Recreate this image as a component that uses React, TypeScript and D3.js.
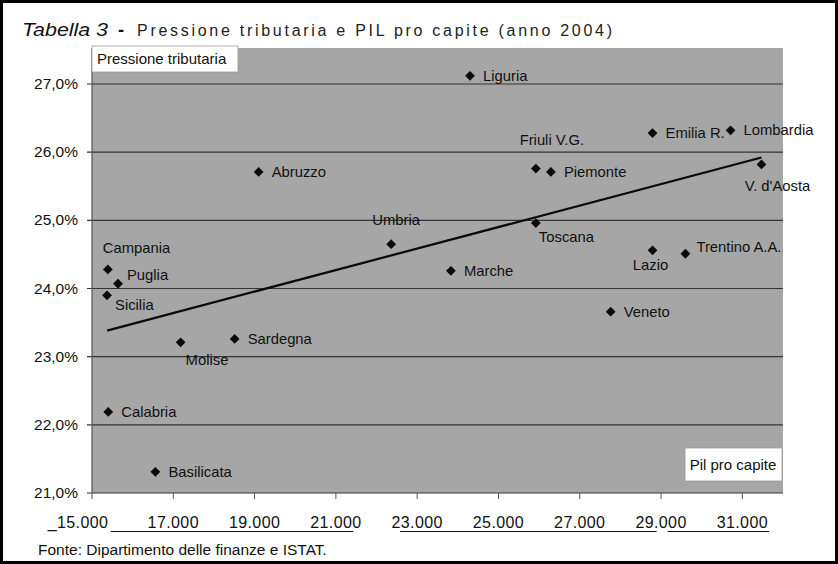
import * as d3 from 'd3';

// Regions, PIL pro capite (euro) and pressione tributaria (%), anno 2004
const regions = [
  'Campania', 'Puglia', 'Sicilia', 'Calabria', 'Basilicata', 'Molise', 'Sardegna',
  'Abruzzo', 'Umbria', 'Marche', 'Liguria', 'Friuli V.G.', 'Piemonte', 'Toscana',
  'Veneto', 'Lazio', 'Trentino A.A.', 'Emilia R.', 'Lombardia', "V. d'Aosta",
];
const pilProCapite = [
  15390, 15640, 15370, 15400, 16560, 17180, 18510,
  19100, 22360, 23830, 24300, 25920, 26290, 25920,
  27760, 28790, 29600, 28790, 30710, 31470,
];
const pressioneTributaria = [
  24.28, 24.07, 23.9, 22.19, 21.31, 23.21, 23.26,
  25.71, 24.65, 24.26, 27.12, 25.76, 25.71, 24.96,
  23.66, 24.56, 24.51, 26.28, 26.32, 25.82,
];

const yTicks = [21, 22, 23, 24, 25, 26, 27];
const xTicks = [15000, 17000, 19000, 21000, 23000, 25000, 27000, 29000, 31000];
const xTickLabels = ['_15.000', '17.000', '19.000', '21.000', '23.000', '25.000', '27.000', '29.000', '31.000'];
// underline strokes printed under the x labels, in PIL units
const underlines: [number, number][] = [[15460, 21430], [22580, 28890], [29160, 31660]];

// label placement: [dx, dy, anchor]
const labelPos: Record<string, [number, number, string]> = {
  Campania: [-5, -21, 'start'],
  Puglia: [9, -9, 'start'],
  Sicilia: [8, 10, 'start'],
  Molise: [5, 18, 'start'],
  Umbria: [5, -24, 'middle'],
  'Friuli V.G.': [16, -29, 'middle'],
  Toscana: [3, 14, 'start'],
  Lazio: [-2, 15, 'middle'],
  'Trentino A.A.': [11, -7, 'start'],
  "V. d'Aosta": [16, 22, 'middle'],
};

const W = 838;
const H = 564;
const left = 92;
const right = 783;
const top = 48;
const bottom = 493;

export default function App() {
  const x = d3.scaleLinear().domain([15000, 32000]).range([left, right]);
  const y = d3.scaleLinear().domain([21, 27]).range([bottom, 84]);

  const pts = regions.map((r, i) => ({ r, px: pilProCapite[i], pt: pressioneTributaria[i] }));

  // linear trend (least squares)
  const mx = d3.mean(pilProCapite) as number;
  const my = d3.mean(pressioneTributaria) as number;
  const sxy = d3.sum(pts, (d) => (d.px - mx) * (d.pt - my));
  const sxx = d3.sum(pts, (d) => (d.px - mx) ** 2);
  const slope = sxy / sxx;
  const [x0, x1] = d3.extent(pilProCapite) as [number, number];
  const trend = [x0, x1].map((v) => ({ px: v, pt: my + slope * (v - mx) }));
  const trendLine = d3
    .line<{ px: number; pt: number }>()
    .x((d) => x(d.px))
    .y((d) => y(d.pt));

  const diamond = d3.symbol().type(d3.symbolSquare).size(48)();
  const fmtY = (v: number) => d3.format('.1f')(v).replace('.', ',') + '%';
  const font = 'Arial, "Liberation Sans", Helvetica, sans-serif';

  return (
    <div>
      <style>{'body{margin:0;}'}</style>
      <svg width={W} height={H} style={{ display: 'block', fontFamily: font }}>
        <rect x={0} y={0} width={W} height={H} fill="#fff" />
        <rect x={1.5} y={1.5} width={W - 3} height={H - 3} fill="none" stroke="#000" strokeWidth={3} />

        <text x={22} y={36} fontSize={19} fontStyle="italic" fill="#111" textLength={86} lengthAdjust="spacingAndGlyphs">
          Tabella 3
        </text>
        <text x={118} y={36} fontSize={18.5} fontWeight="bold" fill="#111">
          -
        </text>
        <text x={137} y={36} fontSize={16} fill="#222" textLength={475} lengthAdjust="spacing">
          Pressione tributaria e PIL pro capite (anno 2004)
        </text>

        <rect x={left} y={top} width={right - left} height={bottom - top} fill="#a6a6a6" />

        {yTicks.map((t) => (
          <g key={t}>
            <line x1={left - 5} x2={right} y1={y(t)} y2={y(t)} stroke="#333" strokeWidth={1.2} />
            <text x={78} y={y(t) + 5} fontSize={15.5} textAnchor="end" fill="#111">
              {fmtY(t)}
            </text>
          </g>
        ))}
        <line x1={left} x2={left} y1={top} y2={bottom} stroke="#555" strokeWidth={1.2} />

        {xTicks.map((t, i) => (
          <g key={t}>
            <line x1={x(t)} x2={x(t)} y1={bottom} y2={bottom + 6} stroke="#555" strokeWidth={1} />
            <text
              x={x(t) + (i === 0 ? -14 : 0)}
              y={528}
              fontSize={16}
              textAnchor="middle"
              letterSpacing={0.4}
              fill="#111"
            >
              {xTickLabels[i]}
            </text>
          </g>
        ))}
        {underlines.map(([a, b], i) => (
          <line key={i} x1={x(a)} x2={x(b)} y1={531.5} y2={531.5} stroke="#111" strokeWidth={1.2} />
        ))}

        <path d={trendLine(trend) ?? ''} fill="none" stroke="#0a0a0a" strokeWidth={2.2} />

        {pts.map((d) => {
          const [dx, dy, anchor] = labelPos[d.r] ?? [13, 0, 'start'];
          const cx = x(d.px);
          const cy = y(d.pt);
          return (
            <g key={d.r}>
              <path d={diamond} transform={`translate(${cx},${cy}) rotate(45)`} fill="#0a0a0a" />
              <text x={cx + dx} y={cy + dy + 5} fontSize={14.8} textAnchor={anchor} fill="#111">
                {d.r}
              </text>
            </g>
          );
        })}

        <rect x={left} y={46} width={146} height={26} fill="#fff" stroke="#999" strokeWidth={0.8} />
        <text x={left + 5} y={64} fontSize={15} fill="#111">
          Pressione tributaria
        </text>

        <rect x={685} y={448} width={97} height={33} fill="#fff" stroke="#999" strokeWidth={0.8} />
        <text x={733} y={470} fontSize={15} textAnchor="middle" fill="#111">
          Pil pro capite
        </text>

        <text x={38} y={555} fontSize={15.5} fill="#111">
          Fonte: Dipartimento delle finanze e ISTAT.
        </text>
      </svg>
    </div>
  );
}
